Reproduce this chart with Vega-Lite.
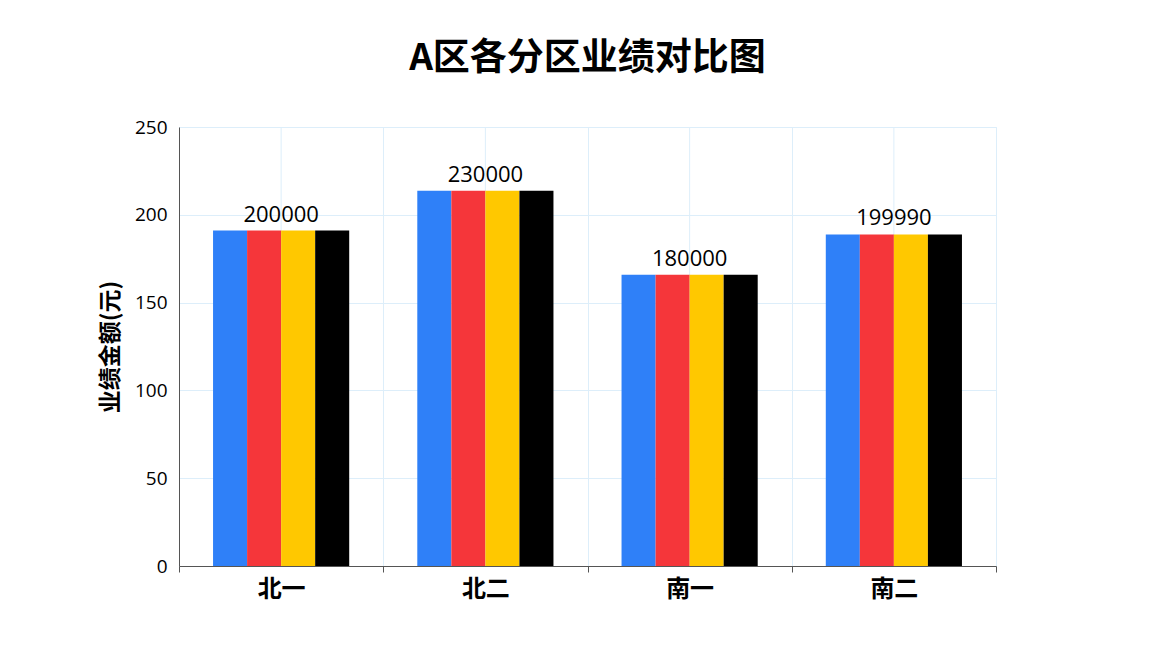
{
  "$schema": "https://vega.github.io/schema/vega-lite/v6.json",
  "autosize": "none",
  "width": 817,
  "height": 439,
  "padding": {"left": 179, "top": 127, "right": 166, "bottom": 88},
  "background": "#ffffff",
  "title": {
    "text": "A区各分区业绩对比图",
    "font": "Noto Sans CJK SC",
    "fontSize": 37,
    "fontWeight": "bold",
    "color": "#000000",
    "anchor": "middle",
    "offset": 40
  },
  "config": {
    "view": {"stroke": "#ddeefa"},
    "axis": {"labelFont": "Open Sans", "titleFont": "Noto Sans CJK SC"}
  },
  "datasets": {
    "bars": [
      {"region": "北一", "series": "系列1", "value": 191},
      {"region": "北一", "series": "系列2", "value": 191},
      {"region": "北一", "series": "系列3", "value": 191},
      {"region": "北一", "series": "系列4", "value": 191},
      {"region": "北二", "series": "系列1", "value": 213.7},
      {"region": "北二", "series": "系列2", "value": 213.7},
      {"region": "北二", "series": "系列3", "value": 213.7},
      {"region": "北二", "series": "系列4", "value": 213.7},
      {"region": "南一", "series": "系列1", "value": 165.8},
      {"region": "南一", "series": "系列2", "value": 165.8},
      {"region": "南一", "series": "系列3", "value": 165.8},
      {"region": "南一", "series": "系列4", "value": 165.8},
      {"region": "南二", "series": "系列1", "value": 188.8},
      {"region": "南二", "series": "系列2", "value": 188.8},
      {"region": "南二", "series": "系列3", "value": 188.8},
      {"region": "南二", "series": "系列4", "value": 188.8}
    ],
    "groups": [
      {"region": "北一", "value": 191, "label": "200000"},
      {"region": "北二", "value": 213.7, "label": "230000"},
      {"region": "南一", "value": 165.8, "label": "180000"},
      {"region": "南二", "value": 188.8, "label": "199990"}
    ]
  },
  "layer": [
    {
      "data": {"name": "groups"},
      "mark": {"type": "rule", "color": "#ddeefa", "strokeWidth": 1},
      "encoding": {
        "x": {"field": "region", "type": "nominal", "sort": null}
      }
    },
    {
      "data": {"name": "bars"},
      "mark": {"type": "bar"},
      "encoding": {
        "x": {
          "field": "region",
          "type": "nominal",
          "sort": null,
          "scale": {"paddingInner": 0, "paddingOuter": 0},
          "axis": {
            "title": null,
            "labelAngle": 0,
            "labelAlign": "center",
            "labelBaseline": "top",
            "labelFont": "Noto Sans CJK SC",
            "labelFontSize": 24,
            "labelFontWeight": "bold",
            "labelColor": "#000000",
            "labelPadding": 5,
            "tickBand": "extent",
            "ticks": true,
            "tickSize": 6,
            "tickColor": "#555555",
            "domainColor": "#555555",
            "grid": true,
            "gridColor": "#ddeefa",
            "gridWidth": 1
          }
        },
        "xOffset": {
          "field": "series",
          "type": "nominal",
          "scale": {"paddingInner": 0, "paddingOuter": 1}
        },
        "y": {
          "field": "value",
          "type": "quantitative",
          "scale": {"domain": [0, 250], "nice": false},
          "axis": {
            "title": "业绩金额(元)",
            "titleFontSize": 23,
            "titleFontWeight": "bold",
            "titleColor": "#000000",
            "titlePadding": 12,
            "values": [0, 50, 100, 150, 200, 250],
            "labelFontSize": 19,
            "labelColor": "#000000",
            "labelPadding": 12,
            "ticks": false,
            "domainColor": "#555555",
            "grid": true,
            "gridColor": "#ddeefa",
            "gridWidth": 1
          }
        },
        "color": {
          "field": "series",
          "type": "nominal",
          "scale": {"range": ["#2f80f8", "#f5363a", "#ffc800", "#000000"]},
          "legend": null
        }
      }
    },
    {
      "data": {"name": "groups"},
      "mark": {"type": "text", "font": "Open Sans", "fontSize": 22, "color": "#000000", "baseline": "bottom", "dy": -4},
      "encoding": {
        "x": {"field": "region", "type": "nominal", "sort": null},
        "y": {"field": "value", "type": "quantitative"},
        "text": {"field": "label", "type": "nominal"}
      }
    }
  ]
}
